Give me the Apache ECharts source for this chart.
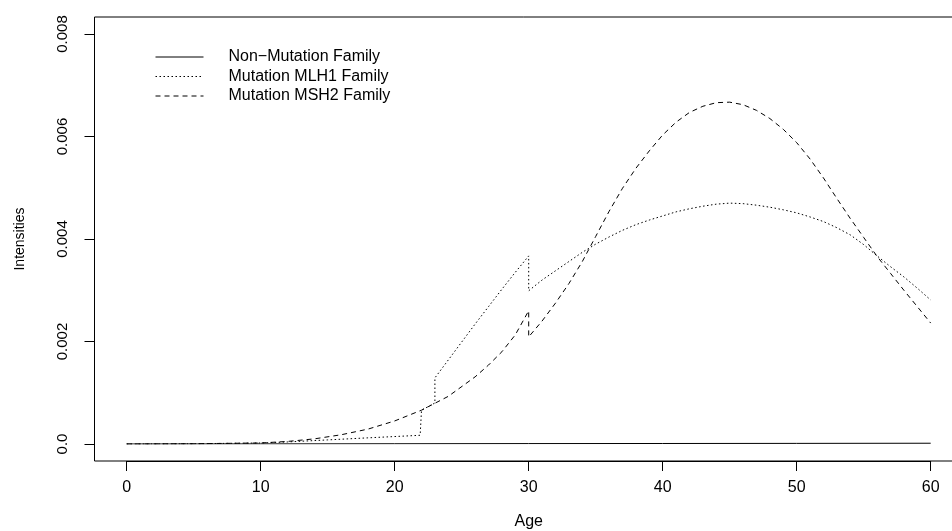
<!DOCTYPE html>
<html>
<head>
<meta charset="utf-8">
<script src="https://cdn.jsdelivr.net/npm/echarts@6/dist/echarts.min.js"></script>
<style>
  html, body { margin: 0; padding: 0; background: #fff; }
  #chart { width: 952px; height: 531px; }
</style>
</head>
<body>
<div id="chart"></div>
<script>
const seriesNames = ["Non\u2212Mutation Family", "Mutation MLH1 Family", "Mutation MSH2 Family"];
const yTickLabels = ["0.0", "0.002", "0.004", "0.006", "0.008"];

// [age, intensity]
const nonMutation = [
  [0, 0], [10, 0.000002], [20, 0.000005], [30, 0.000008],
  [40, 0.00001], [50, 0.000012], [60, 0.000015],
];

const mlh1 = [
  [0, 0], [5, 0.000005], [10, 0.00002], [12, 0.00004], [15, 0.00008],
  [18, 0.00012], [21.9, 0.00017], [22, 0.00066], [23, 0.0008], [23, 0.00129],
  [24, 0.00164], [25, 0.00199], [26, 0.00234], [27, 0.00268], [28, 0.00302],
  [29, 0.00335], [30, 0.00367], [30, 0.00299], [31, 0.0032], [32, 0.00338],
  [33, 0.00356], [34, 0.00374], [35, 0.0039], [36, 0.00404], [37, 0.00417],
  [38, 0.00428], [39, 0.00437], [40, 0.00445], [41, 0.00453], [42, 0.00459],
  [43, 0.00464], [44, 0.00468], [45, 0.0047], [46, 0.00469], [47, 0.00466],
  [48, 0.00462], [49, 0.00457], [50, 0.00451], [51, 0.00443], [52, 0.00434],
  [53, 0.00422], [54, 0.00408], [55, 0.00389], [56, 0.00367], [57, 0.00346],
  [58, 0.00326], [59, 0.00304], [60, 0.00281],
];

const msh2 = [
  [0, 0], [5, 0.000005], [10, 0.00002], [12, 0.00005], [14, 0.0001],
  [16, 0.00018], [18, 0.00029], [20, 0.00045], [22, 0.00066], [24, 0.00093],
  [26, 0.00131], [27, 0.00154], [28, 0.0018], [29, 0.00213], [30, 0.0026],
  [30, 0.00209], [31, 0.0024], [32, 0.00275], [33, 0.00313], [34, 0.00356],
  [35, 0.00405], [36, 0.00454], [37, 0.00499], [38, 0.00538], [39, 0.00572],
  [40, 0.00603], [41, 0.00628], [42, 0.00647], [43, 0.00659], [44, 0.00666],
  [45, 0.00667], [46, 0.00662], [47, 0.00651], [48, 0.00635], [49, 0.00614],
  [50, 0.00588], [51, 0.00556], [52, 0.00519], [53, 0.00479], [54, 0.0044],
  [55, 0.00403], [56, 0.00366], [57, 0.00333], [58, 0.003], [59, 0.00268],
  [60, 0.00236],
];

const font = "Liberation Sans, Arial, Helvetica, sans-serif";

const chart = echarts.init(document.getElementById("chart"), null, { renderer: "canvas" });

const lineSeries = (name, data, type) => ({
  name: name,
  type: "line",
  data: data,
  symbol: "none",
  showSymbol: false,
  smooth: false,
  animation: false,
  lineStyle: { color: "#000", width: 1, type: type },
  itemStyle: { color: "#000" },
});

chart.setOption({
  animation: false,
  backgroundColor: "#fff",
  grid: { left: 126.7, top: 34, width: 804, height: 410, outerBoundsMode: "none", containLabel: false },
  legend: {
    orient: "vertical",
    left: 150,
    top: 44,
    itemWidth: 48,
    itemHeight: 10,
    itemGap: 3.5,
    itemStyle: { opacity: 0 },
    lineStyle: { width: 1 },
    textStyle: { fontFamily: font, fontSize: 16, color: "#000", lineHeight: 16, padding: [0, 0, 0, 20] },
    data: seriesNames,
  },
  xAxis: {
    type: "value",
    min: 0,
    max: 60,
    interval: 10,
    offset: 17,
    name: "Age",
    nameLocation: "middle",
    nameGap: 53,
    nameTextStyle: { fontFamily: font, fontSize: 16, color: "#000" },
    axisLine: { show: true, onZero: false, lineStyle: { color: "#000", width: 1 } },
    axisTick: { show: true, length: 10, lineStyle: { color: "#000" } },
    axisLabel: { fontFamily: font, fontSize: 16, color: "#000", margin: 19 },
    splitLine: { show: false },
  },
  yAxis: {
    type: "value",
    min: 0,
    max: 0.008,
    interval: 0.002,
    offset: 32.2,
    name: "Intensities",
    nameLocation: "middle",
    nameRotate: 90,
    nameGap: 67,
    nameTextStyle: { fontFamily: font, fontSize: 14, color: "#000" },
    axisLine: { show: true, onZero: false, lineStyle: { color: "#000", width: 1 } },
    axisTick: { show: true, length: 10, lineStyle: { color: "#000" } },
    axisLabel: {
      fontFamily: font,
      fontSize: 15,
      color: "#000",
      rotate: 90,
      margin: 24,
      formatter: (v) => yTickLabels[Math.round(v / 0.002)],
    },
    splitLine: { show: false },
  },
  graphic: [
    {
      type: "rect",
      silent: true,
      shape: { x: 94.5, y: 17, width: 870, height: 444 },
      style: { fill: null, stroke: "#000", lineWidth: 1 },
    },
  ],
  series: [
    lineSeries(seriesNames[0], nonMutation, "solid"),
    lineSeries(seriesNames[1], mlh1, [1.5, 2.5]),
    lineSeries(seriesNames[2], msh2, [5, 4]),
  ],
});
</script>
</body>
</html>
